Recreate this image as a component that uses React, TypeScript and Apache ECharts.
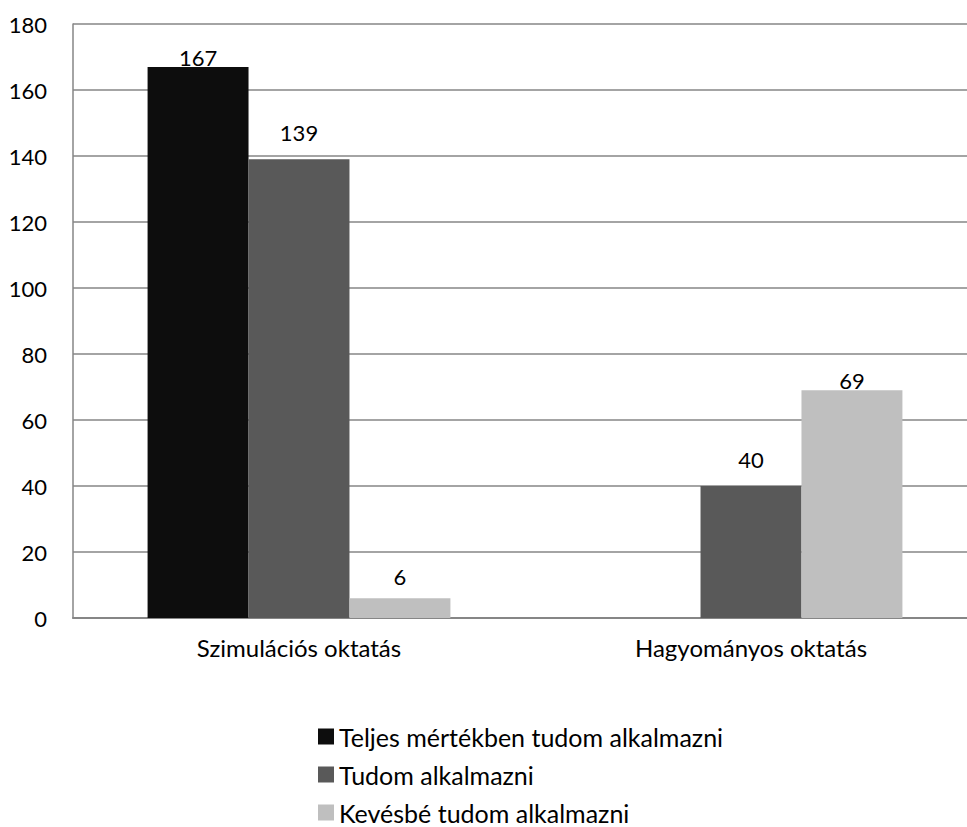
import React, { useEffect, useRef } from "react";
import * as echarts from "echarts";

const categories = ["Szimulációs oktatás", "Hagyományos oktatás"];
const seriesNames = [
  "Teljes mértékben tudom alkalmazni",
  "Tudom alkalmazni",
  "Kevésbé tudom alkalmazni",
];
const teljes = [167, 0];
const tudom = [139, 40];
const kevesbe = [6, 69];
const yTicks = { min: 0, max: 180, interval: 20 };

const colors = ["#0d0d0d", "#595959", "#bfbfbf"];
const FONT = "Lato, 'Open Sans', sans-serif";

export default function App() {
  const ref = useRef<HTMLDivElement>(null);
  useEffect(() => {
    if (!ref.current) return;
    const chart = echarts.init(ref.current, undefined, { renderer: "svg" });
    const values = [teljes, tudom, kevesbe];
    // label distances per bar (Excel-like label placement)
    const dist = [
      [-2, 0],
      [16, 16],
      [11, -1],
    ];
    chart.setOption({
      animation: false,
      backgroundColor: "#ffffff",
      textStyle: { fontFamily: FONT },
      grid: { left: 73, top: 24, bottom: 209, right: 8, containLabel: false },
      legend: {
        orient: "vertical",
        left: 313,
        top: 719,
        height: 106,
        itemGap: 13,
        itemWidth: 16,
        itemHeight: 16,
        icon: "rect",
        textStyle: { fontSize: 25, color: "#000", fontFamily: FONT },
        data: seriesNames,
      },
      xAxis: {
        type: "category",
        data: categories,
        axisTick: { show: false },
        axisLine: { lineStyle: { color: "#868686", width: 2 } },
        axisLabel: { fontSize: 24, color: "#000", margin: 17, fontFamily: FONT },
      },
      yAxis: {
        type: "value",
        min: yTicks.min,
        max: yTicks.max,
        interval: yTicks.interval,
        axisLine: { show: true, lineStyle: { color: "#868686", width: 1.5 } },
        axisTick: { show: false },
        axisLabel: { fontSize: 22, color: "#000", margin: 26, fontFamily: FONT },
        splitLine: { lineStyle: { color: "#868686", width: 1.5 } },
      },
      series: seriesNames.map((name, si) => ({
        name,
        type: "bar",
        barGap: "0%",
        barCategoryGap: "33%",
        itemStyle: { color: colors[si] },
        label: {
          show: true,
          position: "top",
          fontSize: 22,
          color: "#000",
          fontFamily: FONT,
        },
        data: values[si].map((v, ci) => ({
          value: v,
          label: { distance: dist[si][ci], show: v !== 0 },
        })),
      })),
    });
    return () => chart.dispose();
  }, []);
  return (
    <div style={{ position: "fixed", left: 0, top: 0, width: 967, height: 827, overflow: "hidden", background: "#fff" }}>
      <div ref={ref} style={{ width: 985, height: 827 }} />
    </div>
  );
}
